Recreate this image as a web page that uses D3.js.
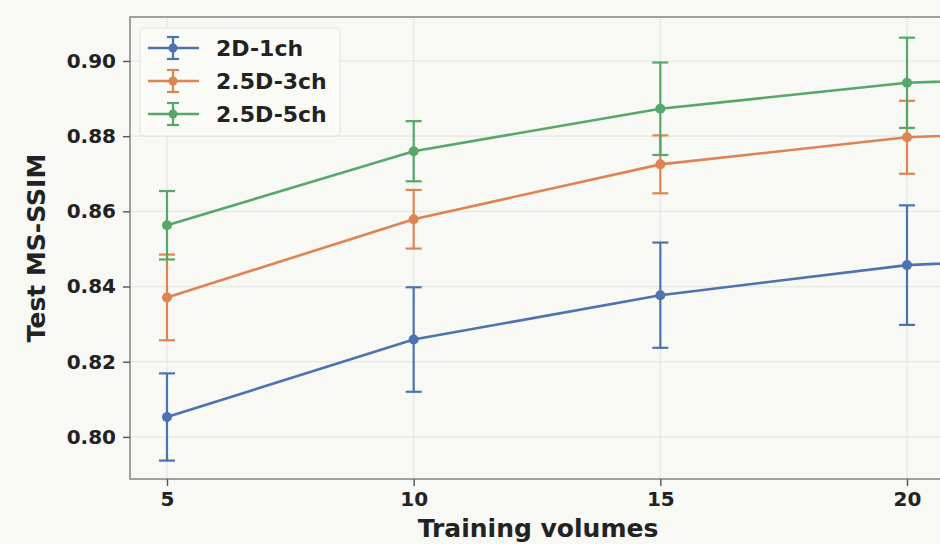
<!DOCTYPE html>
<html>
<head>
<meta charset="utf-8">
<script src="https://cdn.jsdelivr.net/npm/d3@7"></script>
<style>
  body { margin: 0; background: #f8f8f4; overflow: hidden; }
  svg { display: block; font-family: "DejaVu Sans", sans-serif; }
</style>
</head>
<body>
<div id="chart"></div>
<script>
// training volumes (last point lies past the visible edge)
const volumes = [5, 10, 15, 20, 25];
const seriesNames = ["2D-1ch", "2.5D-3ch", "2.5D-5ch"];
const mean1ch = [0.8053, 0.8259, 0.8377, 0.8457, 0.8487];
const err1ch = [0.0116, 0.0139, 0.0140, 0.0159, 0.0150];
const mean3ch = [0.8371, 0.8579, 0.8725, 0.8797, 0.8822];
const err3ch = [0.0114, 0.0078, 0.0077, 0.0097, 0.0090];
const mean5ch = [0.8563, 0.8760, 0.8873, 0.8942, 0.8965];
const err5ch = [0.0091, 0.0080, 0.0123, 0.0120, 0.0110];
const yTicks = [0.80, 0.82, 0.84, 0.86, 0.88, 0.90];
const xTicks = [5, 10, 15, 20];
const colors = ["#4c72b0", "#dd8452", "#55a868"];

const W = 940, H = 544;
const plot = { left: 130, top: 17, right: 944, bottom: 479 };

const svg = d3.select("#chart").append("svg")
    .attr("width", W)
    .attr("height", H);

svg.append("rect").attr("width", W).attr("height", H).attr("fill", "#f8f8f4");

const x = d3.scaleLinear().domain([4.25, 20.75]).range([plot.left, plot.right]);
const y = d3.scaleLinear().domain([0.7888, 0.9117]).range([plot.bottom, plot.top]);

svg.append("clipPath").attr("id", "clip")
    .append("rect")
    .attr("x", plot.left).attr("y", plot.top)
    .attr("width", plot.right - plot.left).attr("height", plot.bottom - plot.top);

// grid
const grid = svg.append("g").attr("stroke", "#e6e6e2").attr("stroke-width", 1.2);
grid.selectAll(".gy").data(yTicks).enter().append("line")
    .attr("x1", plot.left).attr("x2", plot.right)
    .attr("y1", d => y(d)).attr("y2", d => y(d));
grid.selectAll(".gx").data(xTicks).enter().append("line")
    .attr("y1", plot.top).attr("y2", plot.bottom)
    .attr("x1", d => x(d)).attr("x2", d => x(d));

const series = [
    { name: seriesNames[0], mean: mean1ch, err: err1ch, color: colors[0] },
    { name: seriesNames[1], mean: mean3ch, err: err3ch, color: colors[1] },
    { name: seriesNames[2], mean: mean5ch, err: err5ch, color: colors[2] }
];

const marks = svg.append("g").attr("clip-path", "url(#clip)");
const line = d3.line().x(d => x(d.v)).y(d => y(d.m));

series.forEach(s => {
    const pts = volumes.map((v, i) => ({ v: v, m: s.mean[i], e: s.err[i] }));
    const g = marks.append("g");
    g.append("path").datum(pts)
        .attr("d", line)
        .attr("fill", "none")
        .attr("stroke", s.color)
        .attr("stroke-width", 2.6);
    const eb = g.selectAll(".eb").data(pts).enter().append("g").attr("stroke", s.color).attr("stroke-width", 2.2);
    eb.append("line")
        .attr("x1", d => x(d.v)).attr("x2", d => x(d.v))
        .attr("y1", d => y(d.m - d.e)).attr("y2", d => y(d.m + d.e));
    eb.append("line")
        .attr("x1", d => x(d.v) - 8).attr("x2", d => x(d.v) + 8)
        .attr("y1", d => y(d.m + d.e)).attr("y2", d => y(d.m + d.e));
    eb.append("line")
        .attr("x1", d => x(d.v) - 8).attr("x2", d => x(d.v) + 8)
        .attr("y1", d => y(d.m - d.e)).attr("y2", d => y(d.m - d.e));
    g.selectAll("circle").data(pts).enter().append("circle")
        .attr("cx", d => x(d.v)).attr("cy", d => y(d.m))
        .attr("r", 5)
        .attr("fill", s.color);
});

// spines
svg.append("rect")
    .attr("x", plot.left).attr("y", plot.top)
    .attr("width", plot.right - plot.left).attr("height", plot.bottom - plot.top)
    .attr("fill", "none").attr("stroke", "#8a8a8a").attr("stroke-width", 1.6);

// axes
const yAxis = svg.append("g")
    .attr("transform", `translate(${plot.left},0)`)
    .call(d3.axisLeft(y).tickValues(yTicks).tickFormat(d3.format(".2f")).tickSize(7).tickPadding(7));
const xAxis = svg.append("g")
    .attr("transform", `translate(0,${plot.bottom})`)
    .call(d3.axisBottom(x).tickValues(xTicks).tickSize(7).tickPadding(6));
[yAxis, xAxis].forEach(a => {
    a.select(".domain").remove();
    a.selectAll(".tick line").attr("stroke", "#555").attr("stroke-width", 1.4);
    a.selectAll(".tick text")
        .attr("fill", "#222")
        .attr("font-size", 20)
        .attr("font-weight", "bold")
        .attr("font-family", "DejaVu Sans, sans-serif");
});

svg.append("text")
    .attr("transform", `translate(45,${(plot.top + plot.bottom) / 2}) rotate(-90)`)
    .attr("text-anchor", "middle")
    .attr("font-size", 25)
    .attr("font-weight", "bold")
    .attr("fill", "#222")
    .text("Test MS-SSIM");

svg.append("text")
    .attr("x", 538)
    .attr("y", 537)
    .attr("text-anchor", "middle")
    .attr("font-size", 25)
    .attr("font-weight", "bold")
    .attr("fill", "#222")
    .text("Training volumes");

// legend
const legend = svg.append("g").attr("transform", "translate(140,28)");
legend.append("rect")
    .attr("width", 200).attr("height", 108)
    .attr("rx", 4)
    .attr("fill", "#fbfbf8").attr("stroke", "#e2e2de").attr("opacity", 0.95);
series.forEach((s, i) => {
    const row = legend.append("g").attr("transform", `translate(8,${20 + i * 33})`);
    row.append("line").attr("x1", 0).attr("x2", 51).attr("stroke", s.color).attr("stroke-width", 2.6);
    row.append("line").attr("x1", 25).attr("x2", 25).attr("y1", -11).attr("y2", 11).attr("stroke", s.color).attr("stroke-width", 2.2);
    row.append("line").attr("x1", 19).attr("x2", 31).attr("y1", -11).attr("y2", -11).attr("stroke", s.color).attr("stroke-width", 2.2);
    row.append("line").attr("x1", 19).attr("x2", 31).attr("y1", 11).attr("y2", 11).attr("stroke", s.color).attr("stroke-width", 2.2);
    row.append("circle").attr("cx", 25).attr("r", 4.5).attr("fill", s.color);
    row.append("text")
        .attr("x", 68).attr("y", 8)
        .attr("font-size", 22)
        .attr("font-weight", "bold")
        .attr("fill", "#222")
        .text(s.name);
});
</script>
</body>
</html>
